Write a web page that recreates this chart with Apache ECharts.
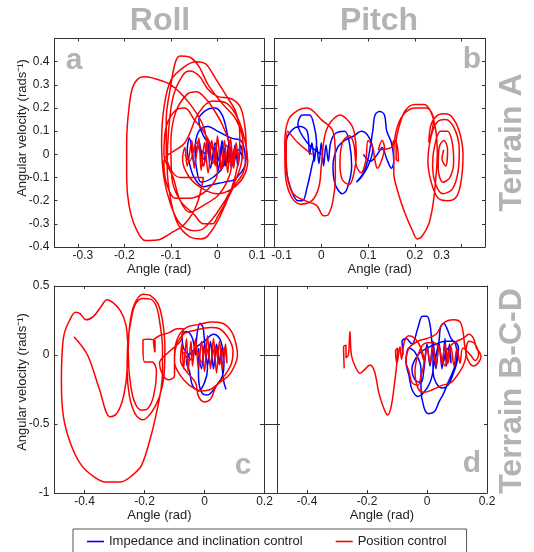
<!DOCTYPE html>
<html>
<head>
<meta charset="utf-8">
<script src="https://cdn.jsdelivr.net/npm/echarts@6/dist/echarts.min.js"></script>
<style>
  html, body { margin: 0; padding: 0; background: #fff; }
  #chart { width: 534px; height: 552px; }
</style>
</head>
<body>
<div id="chart"></div>
<script>
"use strict";

/* ── 刻度与标签 ── */
const abYTicks  = [-0.4, -0.3, -0.2, -0.1, 0, 0.1, 0.2, 0.3, 0.4];
const abYLabels = ["-0.4", "-0.3", "-0.2", "-0.1", "0", "0.1", "0.2", "0.3", "0.4"];
const aXTicks   = [-0.3, -0.2, -0.1, 0, 0.1];
const aXLabels  = ["-0.3", "-0.2", "-0.1", "0", "0.1"];
const bXTicks   = [-0.1, 0, 0.1, 0.2, 0.3];
const bXLabels  = ["-0.1", "0", "0.1", "0.2", "0.3"];
const cdXTicks  = [-0.4, -0.2, 0, 0.2];
const cdXLabels = ["-0.4", "-0.2", "0", "0.2"];
const cdYTicks  = [-1, -0.5, 0, 0.5];
const cdYLabels = ["-1", "-0.5", "0", "0.5"];

const SERIES_NAMES = ["Impedance and inclination control", "Position control"];

/* ── a: Roll, Terrain A ── */
const rollA_imp = [
  [0.0,0.0],[-0.03,0.08],[-0.04,0.15],[-0.025,0.19],[-0.005,0.2],[0.01,0.17],[0.02,0.1],[0.025,0.02],
  [0.01,-0.06],[-0.01,-0.1],[-0.035,-0.12],[-0.045,-0.06],[-0.048,0.02],[-0.04,0.1],[-0.02,0.12],[0.0,0.1],
  [0.03,0.07],[0.05,0.06],[0.058,0.02],[0.06,-0.04],[0.05,-0.08],[0.035,-0.11],[0.015,-0.12],[-0.01,-0.13],
  [-0.03,-0.14],[-0.05,-0.1],[-0.06,-0.04],[-0.065,0.02],[-0.06,0.07],[-0.05,-0.04],[-0.04,0.06],[-0.03,-0.05],
  [-0.022,0.07],[-0.015,-0.06],[-0.005,0.05],[0.002,-0.07],[0.01,0.06],[0.017,-0.05],[0.025,0.05],[0.03,-0.06],
  [0.038,0.04],[0.044,-0.05],[0.05,0.04],[0.055,-0.02],[0.045,0.02],[0.035,-0.03],[0.028,0.03],[0.02,-0.04],
  [0.012,0.04],[0.004,-0.03],[-0.004,0.03],[-0.012,-0.03],[-0.02,0.03],[-0.03,-0.02],[-0.038,0.02],[-0.025,0.0]
];
const rollA_pos = [
  [-0.02,0.0],[-0.03,0.12],[-0.06,0.22],[-0.1,0.3],[-0.14,0.33],[-0.16,0.335],[-0.18,0.3],[-0.19,0.2],
  [-0.195,0.05],[-0.195,-0.1],[-0.19,-0.22],[-0.175,-0.32],[-0.155,-0.372],[-0.13,-0.37],[-0.1,-0.34],[-0.07,-0.3],
  [-0.045,-0.22],[-0.03,-0.1],[-0.08,-0.1],[-0.11,0.0],[-0.11,0.15],[-0.1,0.3],[-0.09,0.4],[-0.08,0.425],
  [-0.06,0.42],[-0.04,0.38],[-0.02,0.3],[0.01,0.22],[0.04,0.15],[0.055,0.05],[0.05,-0.05],[0.03,-0.15],
  [0.0,-0.25],[-0.03,-0.32],[-0.05,-0.33],[-0.08,-0.3],[-0.1,-0.22],[-0.115,-0.1],[-0.12,0.05],[-0.115,0.2],
  [-0.1,0.32],[-0.07,0.38],[-0.045,0.4],[-0.025,0.39],[-0.005,0.33],[0.02,0.25],[0.04,0.18],[0.048,0.08],
  [0.045,-0.03],[0.03,-0.15],[0.005,-0.27],[-0.02,-0.35],[-0.035,-0.365],[-0.06,-0.355],[-0.085,-0.3],[-0.1,-0.2],
  [-0.108,-0.05],[-0.105,0.1],[-0.095,0.25],[-0.075,0.34],[-0.06,0.36],[-0.04,0.34],[-0.02,0.28],[0.0,0.25],
  [0.03,0.24],[0.05,0.2],[0.06,0.1],[0.062,0.0],[0.055,-0.08],[0.035,-0.14],[0.02,-0.2],[0.0,-0.27],
  [-0.01,-0.3],[-0.03,-0.3],[-0.05,-0.26],[-0.08,-0.2],[-0.098,-0.1],[-0.1,0.05],[-0.09,0.18],[-0.065,0.26],
  [-0.045,0.27],[-0.025,0.24],[-0.01,0.2],[0.01,0.13],[0.025,0.05],[0.03,-0.05],[0.02,-0.12],[0.0,-0.18],
  [-0.03,-0.22],[-0.06,-0.25],[-0.08,-0.2],[-0.095,-0.1],[-0.115,0.0],[-0.11,0.12],[-0.09,0.19],[-0.07,0.2],
  [-0.05,0.15],[-0.03,0.1],[-0.01,0.02],[0.0,-0.08],[-0.02,-0.15],[-0.06,-0.19],[-0.09,-0.19],[-0.11,-0.12],
  [-0.115,-0.03],[-0.07,0.05],[-0.04,0.18],[-0.01,0.23],[0.02,0.22],[0.045,0.15],[0.06,0.05],[0.065,-0.03],
  [0.055,-0.1],[0.03,-0.15],[0.0,-0.17],[-0.03,-0.15],[-0.06,-0.1],[-0.075,-0.02],[-0.07,0.03],[-0.065,-0.05],
  [-0.055,0.06],[-0.05,-0.06],[-0.04,0.07],[-0.035,-0.07],[-0.028,0.05],[-0.02,-0.08],[-0.012,0.06],[-0.005,-0.05],
  [0.0,0.08],[0.008,-0.07],[0.015,0.06],[0.022,-0.08],[0.028,0.07],[0.035,-0.06],[0.04,0.05],[0.045,-0.04],
  [0.038,0.03],[0.03,-0.05],[0.02,0.04],[0.01,-0.06],[0.0,0.05],[-0.01,-0.04],[-0.02,0.06],[-0.03,-0.05],
  [-0.045,0.05],[-0.06,-0.03],[-0.07,0.0]
];

/* ── b: Pitch, Terrain A ── */
const pitchA_imp = [
  [0.0,0.0],[-0.03,0.05],[-0.05,0.13],[-0.04,0.17],[-0.025,0.17],[-0.015,0.12],[-0.01,0.05],[-0.02,-0.05],
  [-0.03,-0.14],[-0.04,-0.2],[-0.05,-0.2],[-0.065,-0.15],[-0.075,-0.05],[-0.075,0.05],[-0.065,0.1],[-0.045,0.12],
  [-0.03,0.1],[-0.025,0.0],[-0.02,0.05],[-0.015,-0.03],[-0.01,0.04],[-0.005,-0.04],[0.0,0.05],[0.005,-0.05],
  [0.01,0.04],[0.015,-0.03],[0.02,0.05],[0.03,0.09],[0.05,0.1],[0.06,0.05],[0.065,-0.05],[0.055,-0.15],
  [0.045,-0.17],[0.03,-0.13],[0.025,-0.05],[0.035,0.03],[0.05,0.06],[0.07,0.08],[0.085,0.1],[0.1,0.08],
  [0.11,0.02],[0.1,-0.05],[0.085,-0.1],[0.075,-0.12],[0.09,-0.08],[0.1,-0.02],[0.11,0.1],[0.115,0.17],
  [0.125,0.185],[0.135,0.17],[0.14,0.1],[0.15,0.05],[0.155,-0.03],[0.15,-0.06],[0.14,-0.02],[0.13,0.03],
  [0.12,0.0],[0.105,-0.03],[0.09,0.0]
];
const pitchA_pos = [
  [-0.02,0.0],[-0.05,0.05],[-0.072,0.1],[-0.075,0.0],[-0.072,-0.1],[-0.06,-0.17],[-0.035,-0.2],[-0.01,-0.22],
  [0.005,-0.265],[0.015,-0.26],[0.025,-0.2],[0.03,-0.1],[0.03,0.0],[0.025,0.1],[0.0,0.15],[-0.03,0.2],
  [-0.05,0.19],[-0.07,0.15],[-0.078,0.05],[-0.077,-0.08],[-0.065,-0.18],[-0.045,-0.215],[-0.02,-0.2],[-0.005,-0.14],
  [0.0,-0.05],[0.005,0.05],[0.01,0.1],[0.02,0.14],[0.04,0.17],[0.06,0.14],[0.07,0.1],[0.075,0.0],
  [0.07,-0.08],[0.06,-0.13],[0.045,-0.11],[0.04,-0.04],[0.045,0.05],[0.06,0.08],[0.07,0.04],[0.075,-0.05],
  [0.085,-0.08],[0.095,-0.03],[0.1,0.06],[0.11,0.03],[0.115,-0.03],[0.12,-0.06],[0.13,-0.02],[0.135,0.03],
  [0.13,0.06],[0.122,0.02],[0.15,0.03],[0.155,0.06],[0.162,0.04],[0.165,-0.03],[0.16,-0.02],[0.16,0.05],
  [0.168,0.13],[0.18,0.19],[0.2,0.215],[0.22,0.215],[0.235,0.18],[0.245,0.1],[0.248,0.0],[0.245,-0.1],
  [0.24,-0.2],[0.23,-0.3],[0.215,-0.355],[0.205,-0.365],[0.195,-0.33],[0.18,-0.26],[0.165,-0.17],[0.155,-0.08],
  [0.155,0.0],[0.16,0.1],[0.175,0.17],[0.2,0.2],[0.225,0.2],[0.24,0.15],[0.23,0.05],[0.235,0.13],
  [0.25,0.17],[0.265,0.175],[0.28,0.16],[0.295,0.1],[0.303,0.0],[0.3,-0.1],[0.29,-0.18],[0.27,-0.2],
  [0.25,-0.19],[0.235,-0.12],[0.228,-0.03],[0.235,0.08],[0.248,0.14],[0.265,0.15],[0.285,0.11],[0.295,0.02],
  [0.292,-0.08],[0.28,-0.15],[0.26,-0.17],[0.243,-0.12],[0.238,-0.04],[0.245,0.06],[0.255,0.1],[0.27,0.1],
  [0.28,0.05],[0.283,-0.03],[0.275,-0.1],[0.26,-0.12],[0.25,-0.06],[0.252,0.03],[0.262,0.06],[0.27,0.02],
  [0.266,-0.05],[0.258,-0.02],[0.262,0.02]
];

/* ── c: Roll, Terrain B-C-D ── */
const rollB_imp = [
  [-0.05,0.0],[-0.07,0.05],[-0.075,0.15],[-0.06,0.17],[-0.04,0.12],[-0.03,0.0],[-0.025,0.15],[-0.015,0.23],
  [-0.005,0.2],[0.0,0.1],[0.005,0.0],[0.01,-0.1],[0.0,-0.2],[-0.02,-0.26],[-0.04,-0.22],[-0.05,-0.12],
  [-0.06,-0.05],[-0.03,0.05],[0.0,0.1],[0.03,0.15],[0.05,0.12],[0.06,0.05],[0.065,-0.05],[0.06,-0.15],
  [0.04,-0.22],[0.01,-0.29],[-0.01,-0.27],[-0.02,-0.15],[-0.02,0.05],[-0.01,-0.1],[0.0,0.08],[0.01,-0.08],
  [0.02,0.1],[0.03,-0.1],[0.04,0.08],[0.05,-0.06],[0.055,0.05],[0.06,-0.12],[0.065,-0.2],[0.072,-0.25]
];
const rollB_pos = [
  [-0.435,0.133],[-0.39,0.0],[-0.35,-0.25],[-0.315,-0.447],[-0.295,-0.43],[-0.275,-0.34],[-0.262,-0.2],[-0.255,0.0],
  [-0.25,0.2],[-0.235,0.36],[-0.205,0.44],[-0.18,0.43],[-0.155,0.37],[-0.14,0.25],[-0.132,0.05],[-0.135,-0.15],
  [-0.15,-0.3],[-0.175,-0.41],[-0.205,-0.47],[-0.23,-0.43],[-0.25,-0.3],[-0.258,-0.1],[-0.255,0.1],[-0.245,0.25],
  [-0.23,0.37],[-0.205,0.41],[-0.18,0.405],[-0.16,0.35],[-0.148,0.22],[-0.14,0.05],[-0.14,-0.12],[-0.145,-0.25],
  [-0.16,-0.42],[-0.18,-0.6],[-0.21,-0.8],[-0.24,-0.87],[-0.28,-0.92],[-0.33,-0.92],[-0.37,-0.88],[-0.41,-0.8],
  [-0.445,-0.65],[-0.47,-0.45],[-0.477,-0.2],[-0.475,0.0],[-0.468,0.15],[-0.45,0.25],[-0.43,0.31],[-0.415,0.3],
  [-0.395,0.255],[-0.37,0.28],[-0.345,0.35],[-0.325,0.4],[-0.305,0.38],[-0.28,0.32],[-0.262,0.22],[-0.255,0.05],
  [-0.25,-0.15],[-0.235,-0.33],[-0.21,-0.4],[-0.19,-0.39],[-0.17,-0.3],[-0.16,-0.12],[-0.175,-0.05],[-0.2,-0.05],
  [-0.205,0.05],[-0.205,0.11],[-0.185,0.115],[-0.165,0.1],[-0.165,0.02],[-0.17,0.1],[-0.15,0.14],[-0.12,0.16],
  [-0.09,0.19],[-0.07,0.19],[-0.08,0.1],[-0.12,0.02],[-0.15,-0.06],[-0.14,-0.14],[-0.12,-0.18],[-0.1,-0.15],
  [-0.1,0.0],[-0.09,0.12],[-0.06,0.2],[-0.02,0.22],[0.02,0.24],[0.06,0.23],[0.09,0.17],[0.105,0.08],
  [0.11,0.0],[0.1,-0.08],[0.08,-0.15],[0.05,-0.2],[0.02,-0.25],[-0.01,-0.26],[-0.05,-0.22],[-0.08,-0.15],
  [-0.1,-0.05],[-0.095,0.06],[-0.07,0.15],[-0.03,0.18],[0.02,0.2],[0.05,0.19],[0.08,0.12],[0.095,0.03],
  [0.09,-0.06],[0.07,-0.14],[0.04,-0.22],[0.02,-0.32],[0.0,-0.34],[-0.02,-0.3],[-0.03,-0.2],[-0.06,-0.12],
  [-0.08,-0.04],[-0.075,0.08],[-0.07,-0.1],[-0.06,0.12],[-0.055,-0.12],[-0.045,0.1],[-0.04,-0.08],[-0.03,0.12],
  [-0.02,-0.1],[-0.01,0.1],[0.0,-0.12],[0.01,0.14],[0.02,-0.1],[0.03,0.12],[0.04,-0.13],[0.05,0.1],
  [0.06,-0.1],[0.07,0.08],[0.075,-0.06],[0.065,0.05],[0.05,-0.07],[0.035,0.06],[0.02,-0.05],[0.005,0.06],
  [-0.01,-0.05],[-0.03,0.05],[-0.05,-0.04],[-0.07,0.02]
];

/* ── d: Pitch, Terrain B-C-D ── */
const pitchB_imp = [
  [-0.08,0.0],[-0.083,0.1],[-0.07,0.12],[-0.05,0.08],[-0.03,0.2],[-0.015,0.28],[0.0,0.28],[0.01,0.22],
  [0.015,0.12],[0.02,0.0],[0.02,-0.1],[0.01,-0.2],[-0.01,-0.27],[-0.03,-0.3],[-0.05,-0.25],[-0.06,-0.15],
  [-0.07,-0.05],[-0.06,0.05],[-0.04,0.02],[-0.02,-0.1],[-0.02,-0.25],[-0.01,-0.38],[0.005,-0.425],[0.025,-0.41],
  [0.04,-0.34],[0.055,-0.28],[0.07,-0.2],[0.09,-0.1],[0.1,0.0],[0.095,0.08],[0.08,0.12],[0.065,0.2],
  [0.055,0.23],[0.045,0.2],[0.04,0.1],[0.03,0.0],[0.02,-0.12],[0.03,-0.2],[0.05,-0.24],[0.07,-0.22],
  [0.085,-0.15],[0.1,-0.05],[0.105,0.05],[0.09,0.1],[0.06,0.1],[0.03,0.08],[0.0,0.05],[-0.03,0.0],
  [-0.05,-0.1],[-0.04,-0.18],[-0.02,-0.2],[-0.01,-0.1],[0.0,0.08],[0.01,-0.08],[0.02,0.1],[0.03,-0.1],
  [0.04,0.09],[0.05,-0.1],[0.06,0.12],[0.065,-0.08],[0.075,0.08],[0.08,-0.06],[0.07,0.05],[0.055,-0.05]
];
const pitchB_pos = [
  [-0.276,-0.097],[-0.278,0.06],[-0.27,0.07],[-0.27,-0.02],[-0.262,0.0],[-0.257,0.17],[-0.252,0.0],[-0.24,-0.08],
  [-0.223,-0.133],[-0.21,-0.11],[-0.19,-0.072],[-0.175,-0.12],[-0.16,-0.28],[-0.145,-0.38],[-0.132,-0.435],[-0.12,-0.38],
  [-0.108,-0.2],[-0.1,-0.05],[-0.098,0.05],[-0.105,0.03],[-0.1,-0.06],[-0.09,0.06],[-0.085,-0.03],[-0.075,0.1],
  [-0.06,0.14],[-0.04,0.12],[-0.02,0.05],[-0.01,-0.05],[-0.02,-0.15],[-0.03,-0.22],[-0.05,-0.2],[-0.06,-0.12],
  [-0.07,-0.05],[-0.06,0.05],[-0.03,0.1],[0.0,0.12],[0.03,0.15],[0.05,0.22],[0.07,0.25],[0.09,0.255],
  [0.11,0.24],[0.12,0.17],[0.125,0.08],[0.13,0.0],[0.12,-0.08],[0.1,-0.15],[0.08,-0.2],[0.05,-0.22],
  [0.02,-0.25],[-0.01,-0.27],[-0.03,-0.24],[-0.04,-0.12],[-0.03,0.0],[-0.01,0.08],[0.02,0.09],[0.04,0.05],
  [0.05,-0.03],[0.06,-0.08],[0.07,0.0],[0.08,0.07],[0.1,0.1],[0.12,0.12],[0.14,0.15],[0.155,0.12],
  [0.165,0.05],[0.175,0.02],[0.18,-0.01],[0.17,-0.06],[0.155,-0.08],[0.14,-0.05],[0.13,0.02],[0.14,0.1],
  [0.16,0.08],[0.172,0.0],[0.16,-0.04],[0.145,0.0],[0.12,0.05],[0.11,-0.06],[0.1,0.05],[0.09,-0.08],
  [0.08,0.06],[0.07,-0.06],[0.06,0.08],[0.05,-0.07],[0.04,0.07],[0.03,-0.08],[0.02,0.06],[0.01,-0.06],
  [0.0,0.05],[-0.01,-0.04],[-0.02,0.04]
];

/* ── 布局 ── */
const AXIS_COLOR = "#333";
const TEXT_COLOR = "#222";
const GREY = "#b3b3b3";
const aXLabelAt = [-0.289, -0.2, -0.1, 0, 0.085];      // 原图标签略偏离刻度
const bXLabelAt = [-0.085, 0, 0.1, 0.2, 0.257];

const grids = [
  { left: 54.5,  top: 38.5, width: 209.5, height: 208.5 },
  { left: 274.5, top: 38.5, width: 210.5, height: 208.5 },
  { left: 54.5,  top: 286,  width: 210,   height: 207 },
  { left: 277,   top: 286,  width: 210,   height: 207 }
];

function labelFmt(at, labels) {
  return v => {
    const i = at.findIndex(t => Math.abs(t - v) < 1e-6);
    return i < 0 ? "" : labels[i];
  };
}

function xPair(g, min, max, ticks, labelAt, labels) {
  const base = {
    type: "value", gridIndex: g, min, max,
    axisLine: { show: true, onZero: false, lineStyle: { color: AXIS_COLOR, width: 1 } },
    axisTick: { show: true, inside: true, length: 3, customValues: ticks, lineStyle: { color: AXIS_COLOR } },
    splitLine: { show: false }
  };
  return [
    Object.assign({}, base, {
      position: "bottom",
      name: "Angle (rad)", nameLocation: "middle", nameGap: 15,
      nameTextStyle: { fontSize: 13, color: TEXT_COLOR, fontFamily: "Liberation Sans" },
      axisLabel: {
        customValues: labelAt, formatter: labelFmt(labelAt, labels),
        margin: 3, fontSize: 12, color: TEXT_COLOR, fontFamily: "Liberation Sans"
      }
    }),
    Object.assign({}, base, { position: "top", axisLabel: { show: false } })
  ];
}

function yPair(g, min, max, ticks, labels) {
  const base = {
    type: "value", gridIndex: g, min, max,
    axisLine: { show: true, onZero: false, lineStyle: { color: AXIS_COLOR, width: 1 } },
    axisTick: { show: true, inside: true, length: 3, customValues: ticks, lineStyle: { color: AXIS_COLOR } },
    splitLine: { show: false }
  };
  return [
    Object.assign({}, base, {
      position: "left",
      axisLabel: {
        show: g % 2 === 0, customValues: ticks, formatter: labelFmt(ticks, labels),
        margin: 5, fontSize: 12, color: TEXT_COLOR, fontFamily: "Liberation Sans"
      }
    }),
    Object.assign({}, base, { position: "right", axisLabel: { show: false } })
  ];
}

// 右侧两幅图左轴的外伸刻度（跨越两图之间的空隙）
function outerTicks(g, min, max, ticks, len) {
  return {
    type: "value", gridIndex: g, min, max, position: "left",
    axisLine: { show: false, onZero: false },
    axisTick: { show: true, inside: false, length: len, customValues: ticks, lineStyle: { color: AXIS_COLOR } },
    axisLabel: { show: false },
    splitLine: { show: false }
  };
}

const xAxis = [
  ...xPair(0, -0.35, 0.1, aXTicks, aXLabelAt, aXLabels),
  ...xPair(1, -0.1, 0.35, bXTicks, bXLabelAt, bXLabels),
  ...xPair(2, -0.5, 0.2, cdXTicks, cdXTicks, cdXLabels),
  ...xPair(3, -0.5, 0.2, cdXTicks, cdXTicks, cdXLabels)
];
const yAxis = [
  ...yPair(0, -0.4, 0.5, abYTicks, abYLabels),
  ...yPair(1, -0.4, 0.5, abYTicks, abYLabels),
  ...yPair(2, -1, 0.5, cdYTicks, cdYLabels),
  ...yPair(3, -1, 0.5, cdYTicks, cdYLabels),
  outerTicks(1, -0.4, 0.5, abYTicks, 13),
  outerTicks(3, -1, 0.5, cdYTicks, 17)
];

function mkSeries(p, data, which) {
  const color = which === 0 ? "#0000ff" : "#ff0000";
  return {
    name: SERIES_NAMES[which], type: "line",
    xAxisIndex: 2 * p, yAxisIndex: 2 * p,
    data, symbol: "none", showSymbol: false, smooth: 0.35,
    lineStyle: { color, width: 1.5 }, itemStyle: { color },
    z: which === 0 ? 2 : 3
  };
}

const series = [
  mkSeries(0, rollA_imp, 0),  mkSeries(1, pitchA_imp, 0),
  mkSeries(2, rollB_imp, 0),  mkSeries(3, pitchB_imp, 0),
  mkSeries(0, rollA_pos, 1),  mkSeries(1, pitchA_pos, 1),
  mkSeries(2, rollB_pos, 1),  mkSeries(3, pitchB_pos, 1)
];

function txt(text, x, y, size, opts) {
  return Object.assign({
    type: "text", x, y,
    style: {
      text, fontSize: size, fontWeight: "bold", fill: GREY,
      fontFamily: "Liberation Sans", align: "center", verticalAlign: "middle"
    }
  }, opts || {});
}

function yName(y) {
  return {
    type: "text", x: 22, y, rotation: Math.PI / 2,
    style: { text: "Angular velocity (rads⁻¹)", fontSize: 13, fill: TEXT_COLOR,
             fontFamily: "Liberation Sans", align: "center", verticalAlign: "middle" }
  };
}

const graphic = [
  txt("Roll", 160, 21, 32),
  txt("Pitch", 379, 21, 32),
  txt("Terrain A", 512, 142.5, 32, { rotation: Math.PI / 2 }),
  txt("Terrain B-C-D", 512, 391, 32, { rotation: Math.PI / 2 }),
  txt("a", 74, 61, 30),
  txt("b", 472, 60, 30),
  txt("c", 243, 466, 30),
  txt("d", 472, 464, 30),
  yName(128),
  yName(382)
];

const LEGEND_ICON = "path://M0,0H17V1.6H0Z";

const chart = echarts.init(document.getElementById("chart"), null, { renderer: "canvas" });
chart.setOption({
  backgroundColor: "#fff",
  animation: false,
  grid: grids,
  xAxis, yAxis, series, graphic,
  legend: {
    data: SERIES_NAMES.map(n => ({ name: n, icon: LEGEND_ICON })),
    left: 73, top: 529,
    padding: [6, 20, 12, 14],
    itemGap: 33, itemWidth: 17, itemHeight: 12,
    borderColor: "#555", borderWidth: 1,
    textStyle: { fontSize: 13, color: TEXT_COLOR, fontFamily: "Liberation Sans" }
  }
});
</script>
</body>
</html>
